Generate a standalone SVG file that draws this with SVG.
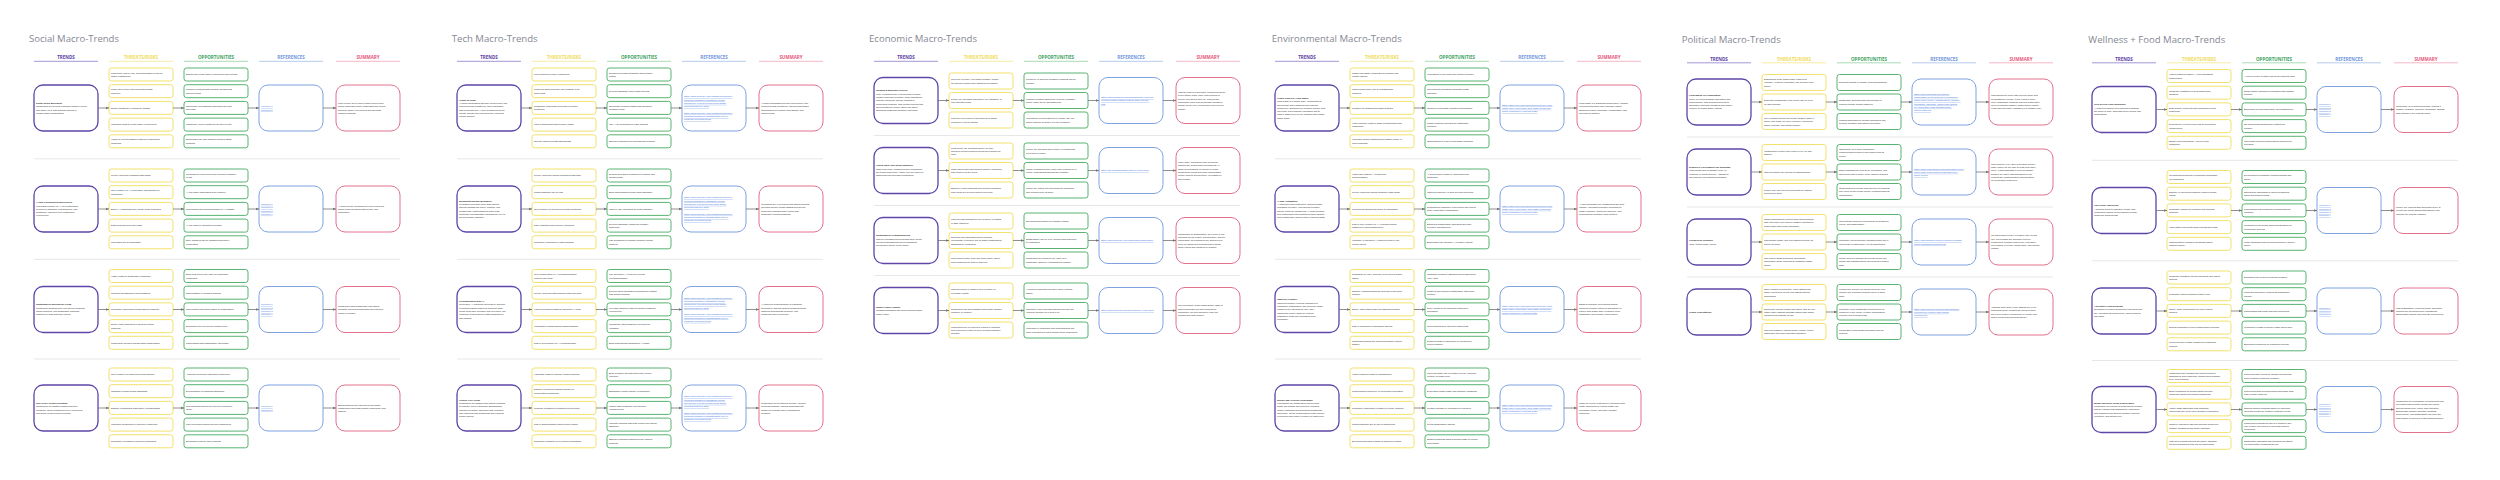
<svg xmlns="http://www.w3.org/2000/svg" width="2500" height="480" viewBox="0 0 2500 480">
<style>
.ttl{font-family:"Open Sans","Noto Sans",sans-serif;font-size:9.6px;fill:#868893}
.h{font-family:"Open Sans","Noto Sans",sans-serif;font-weight:700;font-size:4.5px;text-anchor:middle}
.ul{stroke-width:0.8;fill:none}
.sep{stroke:#e7e7ea;stroke-width:1;fill:none}
.tr{fill:#fff;stroke:#5d46a8;stroke-width:1.3}
.th{fill:#fff;stroke:#f1de5c;stroke-width:0.9}
.op{fill:#fff;stroke:#45aa62;stroke-width:0.9}
.rf{fill:#fff;stroke:#7fa2e2;stroke-width:1}
.sm{fill:#fff;stroke:#e2708d;stroke-width:1}
.t{font-family:"Liberation Sans",Arial,sans-serif;font-size:2.3px;fill:#2a2a2a}
.b{font-weight:700}
.lk{fill:#3f73d9;text-decoration:underline}
.ar path{stroke:#747474;stroke-width:0.8;fill:none;marker-end:url(#ah)}
</style>
<defs>
<marker id="ah" viewBox="0 0 6 6" refX="6" refY="3" markerWidth="3.2" markerHeight="3.2" markerUnits="userSpaceOnUse" orient="auto"><path d="M0 0.5L6 3L0 5.5z" fill="#747474"/></marker>
<g id="hdr">
<text class="h" x="32" y="59" fill="#5a40a3">TRENDS</text>
<text class="h" x="107" y="59" fill="#efdb55">THREATS/RISKS</text>
<text class="h" x="182" y="59" fill="#3ba15d">OPPORTUNITIES</text>
<text class="h" x="257" y="59" fill="#6f95dd">REFERENCES</text>
<text class="h" x="334" y="59" fill="#e3597c">SUMMARY</text>
<path class="ul" stroke="#8c7cc9" d="M0 61.3H64"/>
<path class="ul" stroke="#f4e78e" d="M75 61.3H139"/>
<path class="ul" stroke="#93d2a5" d="M150 61.3H214"/>
<path class="ul" stroke="#a3bdea" d="M225 61.3H289"/>
<path class="ul" stroke="#f0a6b9" d="M302 61.3H366"/>
</g>
<path id="sepA" class="sep" d="M0 158.8H366M0 259.3H366M0 359H366"/>
<path id="sepB" class="sep" d="M0 135.5H366M0 205.5H366M0 275.5H366"/>
</defs>
<rect width="2500" height="480" fill="#fff"/>

<g id="social" transform="translate(34,0)">
<text class="ttl" x="-5" y="41.5" textLength="90" lengthAdjust="spacingAndGlyphs">Social Macro-Trends</text>
<use href="#hdr"/><use href="#sepA"/>
<g id="so1-tr" transform="translate(0,85)"><rect class="tr" width="64" height="46" rx="9"/><text class="t" y="18.9"><tspan x="2" class="b">Digital Detox Movement</tspan><tspan x="2" dy="3.3">Consumers are seeking a balance between online</tspan><tspan x="2" dy="3.3">and offline lives, with growing interest in</tspan><tspan x="2" dy="3.3">mindful digital consumption.</tspan></text></g>
<g id="so1-th1" transform="translate(75,68)"><rect class="th" width="64" height="13" rx="2.5"/><text class="t" y="5.7"><tspan x="2">Less online activity may hurt businesses relying on</tspan><tspan x="2" dy="3.3">digital engagement</tspan></text></g>
<g id="so1-th2" transform="translate(75,84.7)"><rect class="th" width="64" height="13" rx="2.5"/><text class="t" y="5.7"><tspan x="2">Lower ad revenue from decreased digital</tspan><tspan x="2" dy="3.3">presence</tspan></text></g>
<g id="so1-th3" transform="translate(75,101.4)"><rect class="th" width="64" height="13" rx="2.5"/><text class="t" x="2" y="7.35">Slower growth for e-commerce brands</text></g>
<g id="so1-th4" transform="translate(75,118.1)"><rect class="th" width="64" height="13" rx="2.5"/><text class="t" x="2" y="7.35">Increased costs to create offline experiences</text></g>
<g id="so1-th5" transform="translate(75,134.8)"><rect class="th" width="64" height="13" rx="2.5"/><text class="t" y="5.7"><tspan x="2">Harder to collect customer data for personalized</tspan><tspan x="2" dy="3.3">marketing</tspan></text></g>
<g id="so1-op1" transform="translate(150,68)"><rect class="op" width="64" height="13" rx="2.5"/><text class="t" x="2" y="7.35">Brands can create offline experiences and retreats</text></g>
<g id="so1-op2" transform="translate(150,84.7)"><rect class="op" width="64" height="13" rx="2.5"/><text class="t" y="5.7"><tspan x="2">Growth in products that promote mindfulness</tspan><tspan x="2" dy="3.3">and well-being</tspan></text></g>
<g id="so1-op3" transform="translate(150,101.4)"><rect class="op" width="64" height="13" rx="2.5"/><text class="t" y="5.7"><tspan x="2">Opportunity for traditional marketing like print</tspan><tspan x="2" dy="3.3">and radio</tspan></text></g>
<g id="so1-op4" transform="translate(150,118.1)"><rect class="op" width="64" height="13" rx="2.5"/><text class="t" x="2" y="7.35">Community-driven initiatives can drive loyalty</text></g>
<g id="so1-op5" transform="translate(150,134.8)"><rect class="op" width="64" height="13" rx="2.5"/><text class="t" y="5.7"><tspan x="2">Businesses can offer balance-focused digital</tspan><tspan x="2" dy="3.3">products</tspan></text></g>
<g id="so1-rf" transform="translate(225,85)"><rect class="rf" width="64" height="46" rx="9"/><text class="t lk" y="22.2"><tspan x="2">reference 1</tspan><tspan x="2" dy="3.3">reference 2</tspan></text></g>
<g id="so1-sm" transform="translate(302,85)"><rect class="sm" width="64" height="46" rx="9"/><text class="t" y="18.9"><tspan x="2">More people are trying to reduce screen time,</tspan><tspan x="2" dy="3.3">which challenges online businesses but opens</tspan><tspan x="2" dy="3.3">doors for offline experiences and wellness-</tspan><tspan x="2" dy="3.3">focused products.</tspan></text></g>

<g id="so2-tr" transform="translate(0,186)"><rect class="tr" width="64" height="46" rx="9"/><text class="t" y="17.25"><tspan x="2" class="b">AI and Personalized Experiences</tspan><tspan x="2" dy="3.3">Increasing reliance on AI for personalized</tspan><tspan x="2" dy="3.3">services in shopping, entertainment, and</tspan><tspan x="2" dy="3.3">healthcare, offering hyper-customized</tspan><tspan x="2" dy="3.3">experiences.</tspan></text></g>
<g id="so2-th1" transform="translate(75,169)"><rect class="th" width="64" height="13" rx="2.5"/><text class="t" x="2" y="7.35">Privacy concerns regarding data usage</text></g>
<g id="so2-th2" transform="translate(75,185.7)"><rect class="th" width="64" height="13" rx="2.5"/><text class="t" y="5.7"><tspan x="2">Over-reliance on AI could make interactions feel</tspan><tspan x="2" dy="3.3">impersonal</tspan></text></g>
<g id="so2-th3" transform="translate(75,202.4)"><rect class="th" width="64" height="13" rx="2.5"/><text class="t" x="2" y="7.35">Bias in AI algorithms may create unfair outcomes</text></g>
<g id="so2-th4" transform="translate(75,219.1)"><rect class="th" width="64" height="13" rx="2.5"/><text class="t" x="2" y="7.35">Data breaches and cyber risks</text></g>
<g id="so2-th5" transform="translate(75,235.8)"><rect class="th" width="64" height="13" rx="2.5"/><text class="t" x="2" y="7.35">Job losses due to automation</text></g>
<g id="so2-op1" transform="translate(150,169)"><rect class="op" width="64" height="13" rx="2.5"/><text class="t" y="5.7"><tspan x="2">Personalized experiences can increase customer</tspan><tspan x="2" dy="3.3">loyalty</tspan></text></g>
<g id="so2-op2" transform="translate(150,185.7)"><rect class="op" width="64" height="13" rx="2.5"/><text class="t" x="2" y="7.35">AI can make businesses more efficient</text></g>
<g id="so2-op3" transform="translate(150,202.4)"><rect class="op" width="64" height="13" rx="2.5"/><text class="t" x="2" y="7.35">New product development based on AI insights</text></g>
<g id="so2-op4" transform="translate(150,219.1)"><rect class="op" width="64" height="13" rx="2.5"/><text class="t" x="2" y="7.35">AI can improve marketing precision</text></g>
<g id="so2-op5" transform="translate(150,235.8)"><rect class="op" width="64" height="13" rx="2.5"/><text class="t" y="5.7"><tspan x="2">Early adopters can be positioned ahead of</tspan><tspan x="2" dy="3.3">competitors</tspan></text></g>
<g id="so2-rf" transform="translate(225,186)"><rect class="rf" width="64" height="46" rx="9"/><text class="t lk" y="18.9"><tspan x="2">reference 1</tspan><tspan x="2" dy="3.3">reference 2</tspan><tspan x="2" dy="3.3">reference 3</tspan><tspan x="2" dy="3.3">reference 4</tspan></text></g>
<g id="so2-sm" transform="translate(302,186)"><rect class="sm" width="64" height="46" rx="9"/><text class="t" y="20.55"><tspan x="2">AI helps create personalized experiences but</tspan><tspan x="2" dy="3.3">raises concerns about data privacy and</tspan><tspan x="2" dy="3.3">authenticity.</tspan></text></g>

<g id="so3-tr" transform="translate(0,286.5)"><rect class="tr" width="64" height="46" rx="9"/><text class="t" y="18.9"><tspan x="2" class="b">Sustainability and Ethical Living</tspan><tspan x="2" dy="3.3">Consumers demand more eco-friendly products,</tspan><tspan x="2" dy="3.3">ethical sourcing, and sustainable business</tspan><tspan x="2" dy="3.3">practices to align with their values.</tspan></text></g>
<g id="so3-th1" transform="translate(75,269.5)"><rect class="th" width="64" height="13" rx="2.5"/><text class="t" x="2" y="7.35">Higher costs for sustainable production</text></g>
<g id="so3-th2" transform="translate(75,286.2)"><rect class="th" width="64" height="13" rx="2.5"/><text class="t" x="2" y="7.35">Potential accusations of greenwashing</text></g>
<g id="so3-th3" transform="translate(75,302.9)"><rect class="th" width="64" height="13" rx="2.5"/><text class="t" x="2" y="7.35">Regulatory challenges across different markets</text></g>
<g id="so3-th4" transform="translate(75,319.6)"><rect class="th" width="64" height="13" rx="2.5"/><text class="t" y="5.7"><tspan x="2">Supply chain difficulties in sourcing ethical</tspan><tspan x="2" dy="3.3">materials</tspan></text></g>
<g id="so3-th5" transform="translate(75,336.3)"><rect class="th" width="64" height="13" rx="2.5"/><text class="t" x="2" y="7.35">Competition as more brands adopt sustainability</text></g>
<g id="so3-op1" transform="translate(150,269.5)"><rect class="op" width="64" height="13" rx="2.5"/><text class="t" y="5.7"><tspan x="2">Build trust and loyalty with eco-conscious</tspan><tspan x="2" dy="3.3">consumers</tspan></text></g>
<g id="so3-op2" transform="translate(150,286.2)"><rect class="op" width="64" height="13" rx="2.5"/><text class="t" x="2" y="7.35">Differentiation in crowded markets</text></g>
<g id="so3-op3" transform="translate(150,302.9)"><rect class="op" width="64" height="13" rx="2.5"/><text class="t" x="2" y="7.35">New product innovation based on sustainability</text></g>
<g id="so3-op4" transform="translate(150,319.6)"><rect class="op" width="64" height="13" rx="2.5"/><text class="t" x="2" y="7.35">Expansion into eco-friendly product lines</text></g>
<g id="so3-op5" transform="translate(150,336.3)"><rect class="op" width="64" height="13" rx="2.5"/><text class="t" x="2" y="7.35">Partnerships with sustainability advocates</text></g>
<g id="so3-rf" transform="translate(225,286.5)"><rect class="rf" width="64" height="46" rx="9"/><text class="t lk" y="18.9"><tspan x="2">reference 1</tspan><tspan x="2" dy="3.3">reference 2</tspan><tspan x="2" dy="3.3">reference 3</tspan><tspan x="2" dy="3.3">reference 4</tspan></text></g>
<g id="so3-sm" transform="translate(302,286.5)"><rect class="sm" width="64" height="46" rx="9"/><text class="t" y="20.55"><tspan x="2">Consumers want sustainable and ethical</tspan><tspan x="2" dy="3.3">products, offering opportunities but requiring</tspan><tspan x="2" dy="3.3">careful execution.</tspan></text></g>

<g id="so4-tr" transform="translate(0,385)"><rect class="tr" width="64" height="46" rx="9"/><text class="t" y="18.9"><tspan x="2" class="b">Rise of the Creator Economy</tspan><tspan x="2" dy="3.3">Consumers are shifting towards direct-to-</tspan><tspan x="2" dy="3.3">consumer (DTC) brands driven by influencers</tspan><tspan x="2" dy="3.3">and social media content creators.</tspan></text></g>
<g id="so4-th1" transform="translate(75,368)"><rect class="th" width="64" height="13" rx="2.5"/><text class="t" x="2" y="7.35">Over-reliance on influencers could backfire</text></g>
<g id="so4-th2" transform="translate(75,384.7)"><rect class="th" width="64" height="13" rx="2.5"/><text class="t" x="2" y="7.35">Changes in social media algorithms</text></g>
<g id="so4-th3" transform="translate(75,401.4)"><rect class="th" width="64" height="13" rx="2.5"/><text class="t" x="2" y="7.35">Difficulty maintaining authenticity in partnerships</text></g>
<g id="so4-th4" transform="translate(75,418.1)"><rect class="th" width="64" height="13" rx="2.5"/><text class="t" x="2" y="7.35">Increased competition in influencer marketing</text></g>
<g id="so4-th5" transform="translate(75,434.8)"><rect class="th" width="64" height="13" rx="2.5"/><text class="t" x="2" y="7.35">Regulatory oversight of influencer marketing</text></g>
<g id="so4-op1" transform="translate(150,368)"><rect class="op" width="64" height="13" rx="2.5"/><text class="t" x="2" y="7.35">Authentic connection with target audiences</text></g>
<g id="so4-op2" transform="translate(150,384.7)"><rect class="op" width="64" height="13" rx="2.5"/><text class="t" x="2" y="7.35">Diversification of marketing strategies</text></g>
<g id="so4-op3" transform="translate(150,401.4)"><rect class="op" width="64" height="13" rx="2.5"/><text class="t" y="5.7"><tspan x="2">New business models like direct-to-consumer</tspan><tspan x="2" dy="3.3">(DTC)</tspan></text></g>
<g id="so4-op4" transform="translate(150,418.1)"><rect class="op" width="64" height="13" rx="2.5"/><text class="t" x="2" y="7.35">User-generated content driving engagement</text></g>
<g id="so4-op5" transform="translate(150,434.8)"><rect class="op" width="64" height="13" rx="2.5"/><text class="t" x="2" y="7.35">Expanding reach to niche markets</text></g>
<g id="so4-rf" transform="translate(225,385)"><rect class="rf" width="64" height="46" rx="9"/><text class="t lk" y="22.2"><tspan x="2">reference 1</tspan><tspan x="2" dy="3.3">reference 2</tspan></text></g>
<g id="so4-sm" transform="translate(302,385)"><rect class="sm" width="64" height="46" rx="9"/><text class="t" y="20.55"><tspan x="2">Brands tapping into influencers can boost</tspan><tspan x="2" dy="3.3">engagement but must balance authenticity and</tspan><tspan x="2" dy="3.3">strategy.</tspan></text></g>
</g>

<g id="tech" transform="translate(457,0)">
<text class="ttl" x="-5.3" y="41.5" textLength="86" lengthAdjust="spacingAndGlyphs">Tech Macro-Trends</text>
<use href="#hdr"/><use href="#sepA"/>
<g id="te1-tr" transform="translate(0,85)"><rect class="tr" width="64" height="46" rx="9"/><text class="t" y="15.6"><tspan x="2" class="b">Health at Home</tspan><tspan x="2" dy="3.3">At-home diagnostics kits offer convenience and</tspan><tspan x="2" dy="3.3">frequent health monitoring. Tools integrated</tspan><tspan x="2" dy="3.3">with telehealth and AI help consumers act on</tspan><tspan x="2" dy="3.3">results, though price and accuracy concerns</tspan><tspan x="2" dy="3.3">remain barriers.</tspan></text></g>
<g id="te1-th1" transform="translate(75,68)"><rect class="th" width="64" height="13" rx="2.5"/><text class="t" x="2" y="7.35">Price barriers for many consumers</text></g>
<g id="te1-th2" transform="translate(75,84.7)"><rect class="th" width="64" height="13" rx="2.5"/><text class="t" y="5.7"><tspan x="2">Concerns about accuracy and reliability of at-</tspan><tspan x="2" dy="3.3">home tests</tspan></text></g>
<g id="te1-th3" transform="translate(75,101.4)"><rect class="th" width="64" height="13" rx="2.5"/><text class="t" y="5.7"><tspan x="2">Resistance from those preferring in-person</tspan><tspan x="2" dy="3.3">healthcare</tspan></text></g>
<g id="te1-th4" transform="translate(75,118.1)"><rect class="th" width="64" height="13" rx="2.5"/><text class="t" x="2" y="7.35">Lack of awareness about proper usage</text></g>
<g id="te1-th5" transform="translate(75,134.8)"><rect class="th" width="64" height="13" rx="2.5"/><text class="t" x="2" y="7.35">Security risks for health data storage</text></g>
<g id="te1-op1" transform="translate(150,68)"><rect class="op" width="64" height="13" rx="2.5"/><text class="t" y="5.7"><tspan x="2">Expand telehealth integration with at-home</tspan><tspan x="2" dy="3.3">testing</tspan></text></g>
<g id="te1-op2" transform="translate(150,84.7)"><rect class="op" width="64" height="13" rx="2.5"/><text class="t" x="2" y="7.35">Develop affordable and reliable test kits</text></g>
<g id="te1-op3" transform="translate(150,101.4)"><rect class="op" width="64" height="13" rx="2.5"/><text class="t" y="5.7"><tspan x="2">Encourage frequent testing with consumer</tspan><tspan x="2" dy="3.3">feedback loops</tspan></text></g>
<g id="te1-op4" transform="translate(150,118.1)"><rect class="op" width="64" height="13" rx="2.5"/><text class="t" x="2" y="7.35">Use AI for personalized result analysis</text></g>
<g id="te1-op5" transform="translate(150,134.8)"><rect class="op" width="64" height="13" rx="2.5"/><text class="t" x="2" y="7.35">Educate consumers on benefits and reliability</text></g>
<g id="te1-rf" transform="translate(225,85)"><rect class="rf" width="64" height="46" rx="9"/><text class="t lk" y="12.3"><tspan x="2">https://www.mckinsey.com/industries/consumer-</tspan><tspan x="2" dy="3.3">packaged-goods/our-insights/the-trends-</tspan><tspan x="2" dy="3.3">defining-the-1-point-8-trillion-dollar-global-</tspan><tspan x="2" dy="3.3">wellness-market-in-2024</tspan><tspan x="2" dy="6.6">https://www.mckinsey.com/industries/consumer-</tspan><tspan x="2" dy="3.3">packaged-goods/our-insights/whats-next-in-</tspan><tspan x="2" dy="3.3">consumer-wellness-trends</tspan></text></g>
<g id="te1-sm" transform="translate(302,85)"><rect class="sm" width="64" height="46" rx="9"/><text class="t" y="18.9"><tspan x="2">At-home diagnostics provide convenience and</tspan><tspan x="2" dy="3.3">frequent health monitoring, offering businesses</tspan><tspan x="2" dy="3.3">opportunities to enhance accessibility and</tspan><tspan x="2" dy="3.3">effectiveness.</tspan></text></g>

<g id="te2-tr" transform="translate(0,186)"><rect class="tr" width="64" height="46" rx="9"/><text class="t" y="15.6"><tspan x="2" class="b">Biomonitoring and Wearables</tspan><tspan x="2" dy="3.3">Wearables now track more than fitness,</tspan><tspan x="2" dy="3.3">offering insights into sleep, nutrition, and</tspan><tspan x="2" dy="3.3">mindfulness. Partnerships to make data</tspan><tspan x="2" dy="3.3">actionable and affordable solutions are key to</tspan><tspan x="2" dy="3.3">driving broader adoption.</tspan></text></g>
<g id="te2-th1" transform="translate(75,169)"><rect class="th" width="64" height="13" rx="2.5"/><text class="t" x="2" y="7.35">Privacy concerns around personal health data</text></g>
<g id="te2-th2" transform="translate(75,185.7)"><rect class="th" width="64" height="13" rx="2.5"/><text class="t" x="2" y="7.35">Limited adoption due to cost</text></g>
<g id="te2-th3" transform="translate(75,202.4)"><rect class="th" width="64" height="13" rx="2.5"/><text class="t" x="2" y="7.35">Over-reliance on devices for health monitoring</text></g>
<g id="te2-th4" transform="translate(75,219.1)"><rect class="th" width="64" height="13" rx="2.5"/><text class="t" x="2" y="7.35">User frustration with complex interfaces</text></g>
<g id="te2-th5" transform="translate(75,235.8)"><rect class="th" width="64" height="13" rx="2.5"/><text class="t" x="2" y="7.35">Regulatory challenges in data handling</text></g>
<g id="te2-op1" transform="translate(150,169)"><rect class="op" width="64" height="13" rx="2.5"/><text class="t" y="5.7"><tspan x="2">Expand wearables' functions for nutrition and</tspan><tspan x="2" dy="3.3">mental health</tspan></text></g>
<g id="te2-op2" transform="translate(150,185.7)"><rect class="op" width="64" height="13" rx="2.5"/><text class="t" x="2" y="7.35">Build partnerships to make data actionable</text></g>
<g id="te2-op3" transform="translate(150,202.4)"><rect class="op" width="64" height="13" rx="2.5"/><text class="t" x="2" y="7.35">Improve user interfaces for better adoption</text></g>
<g id="te2-op4" transform="translate(150,219.1)"><rect class="op" width="64" height="13" rx="2.5"/><text class="t" y="5.7"><tspan x="2">Develop affordable options for broader</tspan><tspan x="2" dy="3.3">audiences</tspan></text></g>
<g id="te2-op5" transform="translate(150,235.8)"><rect class="op" width="64" height="13" rx="2.5"/><text class="t" y="5.7"><tspan x="2">Use wearables to promote proactive health</tspan><tspan x="2" dy="3.3">behavior</tspan></text></g>
<g id="te2-rf" transform="translate(225,186)"><rect class="rf" width="64" height="46" rx="9"/><text class="t lk" y="12.3"><tspan x="2">https://www.mckinsey.com/industries/consumer-</tspan><tspan x="2" dy="3.3">packaged-goods/our-insights/the-trends-</tspan><tspan x="2" dy="3.3">defining-the-1-point-8-trillion-dollar-global-</tspan><tspan x="2" dy="3.3">wellness-market-in-2024</tspan><tspan x="2" dy="6.6">https://www.mckinsey.com/industries/consumer-</tspan><tspan x="2" dy="3.3">packaged-goods/our-insights/whats-next-in-</tspan><tspan x="2" dy="3.3">consumer-wellness-trends</tspan></text></g>
<g id="te2-sm" transform="translate(302,186)"><rect class="sm" width="64" height="46" rx="9"/><text class="t" y="18.9"><tspan x="2">Wearables are evolving beyond fitness tracking,</tspan><tspan x="2" dy="3.3">providing deeper health insights and driving</tspan><tspan x="2" dy="3.3">behavioral changes when paired with</tspan><tspan x="2" dy="3.3">actionable recommendations.</tspan></text></g>

<g id="te3-tr" transform="translate(0,286.5)"><rect class="tr" width="64" height="46" rx="9"/><text class="t" y="15.6"><tspan x="2" class="b">Personalization with AI</tspan><tspan x="2" dy="3.3">Generative AI enhances wellness by tailoring</tspan><tspan x="2" dy="3.3">recommendations based on biometric data.</tspan><tspan x="2" dy="3.3">These tools offer precision and relevance, but</tspan><tspan x="2" dy="3.3">consumer trust hinges on data transparency</tspan><tspan x="2" dy="3.3">and usability.</tspan></text></g>
<g id="te3-th1" transform="translate(75,269.5)"><rect class="th" width="64" height="13" rx="2.5"/><text class="t" y="5.7"><tspan x="2">Over-complication in AI recommendations</tspan><tspan x="2" dy="3.3">reduces user trust</tspan></text></g>
<g id="te3-th2" transform="translate(75,286.2)"><rect class="th" width="64" height="13" rx="2.5"/><text class="t" x="2" y="7.35">Privacy concerns with biometric data collection</text></g>
<g id="te3-th3" transform="translate(75,302.9)"><rect class="th" width="64" height="13" rx="2.5"/><text class="t" x="2" y="7.35">High development costs for advanced AI tools</text></g>
<g id="te3-th4" transform="translate(75,319.6)"><rect class="th" width="64" height="13" rx="2.5"/><text class="t" x="2" y="7.35">Inconsistent results without robust datasets</text></g>
<g id="te3-th5" transform="translate(75,336.3)"><rect class="th" width="64" height="13" rx="2.5"/><text class="t" x="2" y="7.35">Risk of overreliance on AI personalization</text></g>
<g id="te3-op1" transform="translate(150,269.5)"><rect class="op" width="64" height="13" rx="2.5"/><text class="t" y="5.7"><tspan x="2">Use generative AI to deliver precise</tspan><tspan x="2" dy="3.3">recommendations</tspan></text></g>
<g id="te3-op2" transform="translate(150,286.2)"><rect class="op" width="64" height="13" rx="2.5"/><text class="t" y="5.7"><tspan x="2">Develop apps integrating personalized nutrition</tspan><tspan x="2" dy="3.3">with health products</tspan></text></g>
<g id="te3-op3" transform="translate(150,302.9)"><rect class="op" width="64" height="13" rx="2.5"/><text class="t" y="5.7"><tspan x="2">Leverage biometric data for tailored consumer</tspan><tspan x="2" dy="3.3">experiences</tspan></text></g>
<g id="te3-op4" transform="translate(150,319.6)"><rect class="op" width="64" height="13" rx="2.5"/><text class="t" y="5.7"><tspan x="2">Collaborate with healthcare providers for</tspan><tspan x="2" dy="3.3">validation</tspan></text></g>
<g id="te3-op5" transform="translate(150,336.3)"><rect class="op" width="64" height="13" rx="2.5"/><text class="t" x="2" y="7.35">Build trust through transparent AI usage</text></g>
<g id="te3-rf" transform="translate(225,286.5)"><rect class="rf" width="64" height="46" rx="9"/><text class="t lk" y="12.3"><tspan x="2">https://www.mckinsey.com/industries/consumer-</tspan><tspan x="2" dy="3.3">packaged-goods/our-insights/the-trends-</tspan><tspan x="2" dy="3.3">defining-the-1-point-8-trillion-dollar-global-</tspan><tspan x="2" dy="3.3">wellness-market-in-2024</tspan><tspan x="2" dy="6.6">https://www.mckinsey.com/industries/consumer-</tspan><tspan x="2" dy="3.3">packaged-goods/our-insights/whats-next-in-</tspan><tspan x="2" dy="3.3">consumer-wellness-trends</tspan></text></g>
<g id="te3-sm" transform="translate(302,286.5)"><rect class="sm" width="64" height="46" rx="9"/><text class="t" y="18.9"><tspan x="2">AI-powered personalization is reshaping</tspan><tspan x="2" dy="3.3">wellness by offering tailored health solutions,</tspan><tspan x="2" dy="3.3">fostering trust through accuracy, and</tspan><tspan x="2" dy="3.3">enhancing user experience.</tspan></text></g>

<g id="te4-tr" transform="translate(0,385)"><rect class="tr" width="64" height="46" rx="9"/><text class="t" y="15.6"><tspan x="2" class="b">Clinical Over Clean</tspan><tspan x="2" dy="3.3">Consumers are shifting from natural products</tspan><tspan x="2" dy="3.3">to clinically proven solutions. Emphasizing</tspan><tspan x="2" dy="3.3">scientific credibility with third-party research</tspan><tspan x="2" dy="3.3">and endorsements builds trust and expands</tspan><tspan x="2" dy="3.3">market appeal.</tspan></text></g>
<g id="te4-th1" transform="translate(75,368)"><rect class="th" width="64" height="13" rx="2.5"/><text class="t" x="2" y="7.35">High R&amp;D costs for clinically tested products</text></g>
<g id="te4-th2" transform="translate(75,384.7)"><rect class="th" width="64" height="13" rx="2.5"/><text class="t" y="5.7"><tspan x="2">Difficulty pivoting for brands focused on</tspan><tspan x="2" dy="3.3">clean/natural positioning</tspan></text></g>
<g id="te4-th3" transform="translate(75,401.4)"><rect class="th" width="64" height="13" rx="2.5"/><text class="t" x="2" y="7.35">Regional variations in consumer preferences</text></g>
<g id="te4-th4" transform="translate(75,418.1)"><rect class="th" width="64" height="13" rx="2.5"/><text class="t" x="2" y="7.35">Risk of misinformation about clinical claims</text></g>
<g id="te4-th5" transform="translate(75,434.8)"><rect class="th" width="64" height="13" rx="2.5"/><text class="t" x="2" y="7.35">Consumer confusion over clinical certifications</text></g>
<g id="te4-op1" transform="translate(150,368)"><rect class="op" width="64" height="13" rx="2.5"/><text class="t" y="5.7"><tspan x="2">Build credibility through third-party clinical</tspan><tspan x="2" dy="3.3">research</tspan></text></g>
<g id="te4-op2" transform="translate(150,384.7)"><rect class="op" width="64" height="13" rx="2.5"/><text class="t" x="2" y="7.35">Emphasize clinical efficacy in marketing</text></g>
<g id="te4-op3" transform="translate(150,401.4)"><rect class="op" width="64" height="13" rx="2.5"/><text class="t" y="5.7"><tspan x="2">Partner with healthcare providers for</tspan><tspan x="2" dy="3.3">endorsements</tspan></text></g>
<g id="te4-op4" transform="translate(150,418.1)"><rect class="op" width="64" height="13" rx="2.5"/><text class="t" y="5.7"><tspan x="2">Innovate products with both clinical and natural</tspan><tspan x="2" dy="3.3">attributes</tspan></text></g>
<g id="te4-op5" transform="translate(150,434.8)"><rect class="op" width="64" height="13" rx="2.5"/><text class="t" y="5.7"><tspan x="2">Educate consumers about science-backed</tspan><tspan x="2" dy="3.3">products</tspan></text></g>
<g id="te4-rf" transform="translate(225,385)"><rect class="rf" width="64" height="46" rx="9"/><text class="t lk" y="12.3"><tspan x="2">https://www.mckinsey.com/industries/consumer-</tspan><tspan x="2" dy="3.3">packaged-goods/our-insights/the-trends-</tspan><tspan x="2" dy="3.3">defining-the-1-point-8-trillion-dollar-global-</tspan><tspan x="2" dy="3.3">wellness-market-in-2024</tspan><tspan x="2" dy="6.6">https://www.mckinsey.com/industries/consumer-</tspan><tspan x="2" dy="3.3">packaged-goods/our-insights/whats-next-in-</tspan><tspan x="2" dy="3.3">consumer-wellness-trends</tspan></text></g>
<g id="te4-sm" transform="translate(302,385)"><rect class="sm" width="64" height="46" rx="9"/><text class="t" y="18.9"><tspan x="2">Consumers are prioritizing clinically effective</tspan><tspan x="2" dy="3.3">wellness products, offering businesses the</tspan><tspan x="2" dy="3.3">chance to innovate while emphasizing</tspan><tspan x="2" dy="3.3">credibility.</tspan></text></g>
</g>

<g id="economic" transform="translate(874,0)">
<text class="ttl" x="-5" y="41.5" textLength="108" lengthAdjust="spacingAndGlyphs">Economic Macro-Trends</text>
<use href="#hdr"/><use href="#sepB"/>
<g id="ec1-tr" transform="translate(0,77.5)"><rect class="tr" width="64" height="46" rx="9"/><text class="t" y="13.95"><tspan x="2" class="b">Inflation &amp; Monetary Policies</tspan><tspan x="2" dy="3.3">Many economies are experiencing elevated</tspan><tspan x="2" dy="3.3">inflation rates due to supply chain disruptions</tspan><tspan x="2" dy="3.3">from the pandemic and the impacts of</tspan><tspan x="2" dy="3.3">geopolitical tensions. This creates interest rate</tspan><tspan x="2" dy="3.3">hikes to stabilize prices, which can affect</tspan><tspan x="2" dy="3.3">borrowing costs and consumer spending.</tspan></text></g>
<g id="ec1-th1" transform="translate(75,73)"><rect class="th" width="64" height="16" rx="2.5"/><text class="t" y="7.2"><tspan x="2">The price of nearly everything is higher, people</tspan><tspan x="2" dy="3.3">are having a harder time affording necessities</tspan></text></g>
<g id="ec1-th2" transform="translate(75,92.5)"><rect class="th" width="64" height="16" rx="2.5"/><text class="t" y="7.2"><tspan x="2">People are spending less money on “indulgent” or</tspan><tspan x="2" dy="3.3">non-essential items</tspan></text></g>
<g id="ec1-th3" transform="translate(75,112)"><rect class="th" width="64" height="16" rx="2.5"/><text class="t" y="7.2"><tspan x="2">This likely will require a government or global</tspan><tspan x="2" dy="3.3">economic event to change</tspan></text></g>
<g id="ec1-op1" transform="translate(150,73)"><rect class="op" width="64" height="16" rx="2.5"/><text class="t" y="7.2"><tspan x="2">Localized, or direct-to-consumer products can be</tspan><tspan x="2" dy="3.3">cheaper</tspan></text></g>
<g id="ec1-op2" transform="translate(150,92.5)"><rect class="op" width="64" height="16" rx="2.5"/><text class="t" y="7.2"><tspan x="2">Finding a product without the need for a massive</tspan><tspan x="2" dy="3.3">supply chain will be advantageous</tspan></text></g>
<g id="ec1-op3" transform="translate(150,112)"><rect class="op" width="64" height="16" rx="2.5"/><text class="t" y="7.2"><tspan x="2">Innovations on items that aren't “single use” but</tspan><tspan x="2" dy="3.3">rather continue to supply it to the consumer</tspan></text></g>
<g id="ec1-rf" transform="translate(225,77.5)"><rect class="rf" width="64" height="46" rx="9"/><text class="t lk" y="20.55"><tspan x="2">https://www.jpmorgan.com/insights/global-research/</tspan><tspan x="2" dy="3.3">economy/global-inflation-outlook-2024-fed-rate-</tspan><tspan x="2" dy="3.3">cuts</tspan></text></g>
<g id="ec1-sm" transform="translate(302,77.5)"><rect class="sm" width="64" height="46" rx="9"/><text class="t" y="15.6"><tspan x="2">With the cost of living rising, consumers will be</tspan><tspan x="2" dy="3.3">hyper-aware of the value each product or</tspan><tspan x="2" dy="3.3">service provides to their life. This means</tspan><tspan x="2" dy="3.3">articulating value and meaningful impacts in</tspan><tspan x="2" dy="3.3">design will be a key to success in the current</tspan><tspan x="2" dy="3.3">market.</tspan></text></g>

<g id="ec2-tr" transform="translate(0,147.5)"><rect class="tr" width="64" height="46" rx="9"/><text class="t" y="18.9"><tspan x="2" class="b">Hybrid Work isn't going anywhere</tspan><tspan x="2" dy="3.3">Post covid many companies have maintained</tspan><tspan x="2" dy="3.3">the hybrid work policy, largely due to employee</tspan><tspan x="2" dy="3.3">happiness and increased productivity.</tspan></text></g>
<g id="ec2-th1" transform="translate(75,143)"><rect class="th" width="64" height="16" rx="2.5"/><text class="t" y="5.55"><tspan x="2">Less people are spending money on daily</tspan><tspan x="2" dy="3.3">activities involved around leaving their homes for</tspan><tspan x="2" dy="3.3">work</tspan></text></g>
<g id="ec2-th2" transform="translate(75,162.5)"><rect class="th" width="64" height="16" rx="2.5"/><text class="t" y="7.2"><tspan x="2">Large offices and retail spaces formerly populated</tspan><tspan x="2" dy="3.3">with employees are dying</tspan></text></g>
<g id="ec2-th3" transform="translate(75,182)"><rect class="th" width="64" height="16" rx="2.5"/><text class="t" y="7.2"><tspan x="2">Effectively some business built around populated</tspan><tspan x="2" dy="3.3">work areas are being rendered irrelevant</tspan></text></g>
<g id="ec2-op1" transform="translate(150,143)"><rect class="op" width="64" height="16" rx="2.5"/><text class="t" y="7.2"><tspan x="2">People are spending more money on things that</tspan><tspan x="2" dy="3.3">keep them at home</tspan></text></g>
<g id="ec2-op2" transform="translate(150,162.5)"><rect class="op" width="64" height="16" rx="2.5"/><text class="t" y="7.2"><tspan x="2">Former commuters have more time to spend on a</tspan><tspan x="2" dy="3.3">variety of things that support the economy</tspan></text></g>
<g id="ec2-op3" transform="translate(150,182)"><rect class="op" width="64" height="16" rx="2.5"/><text class="t" y="7.2"><tspan x="2">People are eating out less during the workweek</tspan><tspan x="2" dy="3.3">and cooking more at home</tspan></text></g>
<g id="ec2-rf" transform="translate(225,147.5)"><rect class="rf" width="64" height="46" rx="9"/><text class="t lk" x="2" y="23.85">https://hbr.org/2023/03/the-state-of-hybrid-work</text></g>
<g id="ec2-sm" transform="translate(302,147.5)"><rect class="sm" width="64" height="46" rx="9"/><text class="t" y="15.6"><tspan x="2">While many companies have seemingly</tspan><tspan x="2" dy="3.3">adopted the hybrid model permanently, it</tspan><tspan x="2" dy="3.3">holds an opportunity to provide in-home</tspan><tspan x="2" dy="3.3">solutions for meals and other commodities</tspan><tspan x="2" dy="3.3">people used to spend money on outside of</tspan><tspan x="2" dy="3.3">their homes.</tspan></text></g>

<g id="ec3-tr" transform="translate(0,217.5)"><rect class="tr" width="64" height="46" rx="9"/><text class="t" y="18.9"><tspan x="2" class="b">Sustainability in Manufacturing</tspan><tspan x="2" dy="3.3">This is a consistent trend across many areas,</tspan><tspan x="2" dy="3.3">not just manufacturing but is consistently</tspan><tspan x="2" dy="3.3">becoming a priority to the public.</tspan></text></g>
<g id="ec3-th1" transform="translate(75,213)"><rect class="th" width="64" height="16" rx="2.5"/><text class="t" y="7.2"><tspan x="2">This can cost companies a lot of money investing</tspan><tspan x="2" dy="3.3">in CSR initiatives</tspan></text></g>
<g id="ec3-th2" transform="translate(75,232.5)"><rect class="th" width="64" height="16" rx="2.5"/><text class="t" y="5.55"><tspan x="2">Sourcing and manufacturing will become</tspan><tspan x="2" dy="3.3">increasingly expensive due to higher sustainability</tspan><tspan x="2" dy="3.3">standards by consumers</tspan></text></g>
<g id="ec3-th3" transform="translate(75,252)"><rect class="th" width="64" height="16" rx="2.5"/><text class="t" y="7.2"><tspan x="2">This requires more work and more money spent</tspan><tspan x="2" dy="3.3">from companies to achieve this end</tspan></text></g>
<g id="ec3-op1" transform="translate(150,213)"><rect class="op" width="64" height="16" rx="2.5"/><text class="t" x="2" y="8.85">Environmental impact is a massive upside</text></g>
<g id="ec3-op2" transform="translate(150,232.5)"><rect class="op" width="64" height="16" rx="2.5"/><text class="t" y="7.2"><tspan x="2">Sustainability can be a key selling point marketed</tspan><tspan x="2" dy="3.3">to consumers</tspan></text></g>
<g id="ec3-op3" transform="translate(150,252)"><rect class="op" width="64" height="16" rx="2.5"/><text class="t" y="7.2"><tspan x="2">Consumers are willing to pay more for a</tspan><tspan x="2" dy="3.3">sustainably sourced / manufactured product</tspan></text></g>
<g id="ec3-rf" transform="translate(225,217.5)"><rect class="rf" width="64" height="46" rx="9"/><text class="t lk" x="2" y="23.85">https://www.mckinsey.com/capabilities/sustainability</text></g>
<g id="ec3-sm" transform="translate(302,217.5)"><rect class="sm" width="64" height="46" rx="9"/><text class="t" y="17.25"><tspan x="2">Capitalizing on sustainability as a value is not</tspan><tspan x="2" dy="3.3">just good for the planet, but potentially also for</tspan><tspan x="2" dy="3.3">businesses, as consumers are willing to pay</tspan><tspan x="2" dy="3.3">more for goods and products that express</tspan><tspan x="2" dy="3.3">these values and initiatives in practice.</tspan></text></g>

<g id="ec4-tr" transform="translate(0,287.5)"><rect class="tr" width="64" height="46" rx="9"/><text class="t" y="20.55"><tspan x="2" class="b">Supply Chain Fragility</tspan><tspan x="2" dy="3.3">Constant shortages and delays among global</tspan><tspan x="2" dy="3.3">supply chain.</tspan></text></g>
<g id="ec4-th1" transform="translate(75,283)"><rect class="th" width="64" height="16" rx="2.5"/><text class="t" y="7.2"><tspan x="2">This can lead to a massive hole in supply of</tspan><tspan x="2" dy="3.3">necessary goods</tspan></text></g>
<g id="ec4-th2" transform="translate(75,302.5)"><rect class="th" width="64" height="16" rx="2.5"/><text class="t" y="7.2"><tspan x="2">Consumers can get frustrated and pursue another</tspan><tspan x="2" dy="3.3">company or product</tspan></text></g>
<g id="ec4-th3" transform="translate(75,322)"><rect class="th" width="64" height="16" rx="2.5"/><text class="t" y="5.55"><tspan x="2">Companies may be forced to rebuild or redesign</tspan><tspan x="2" dy="3.3">their pipelines in order to keep up with consumer</tspan><tspan x="2" dy="3.3">demand</tspan></text></g>
<g id="ec4-op1" transform="translate(150,283)"><rect class="op" width="64" height="16" rx="2.5"/><text class="t" y="7.2"><tspan x="2">A localized approach can solve some of these</tspan><tspan x="2" dy="3.3">issues</tspan></text></g>
<g id="ec4-op2" transform="translate(150,302.5)"><rect class="op" width="64" height="16" rx="2.5"/><text class="t" y="7.2"><tspan x="2">Potentially more jobs and markets can take the</tspan><tspan x="2" dy="3.3">“popular” solution on a local level</tspan></text></g>
<g id="ec4-op3" transform="translate(150,322)"><rect class="op" width="64" height="16" rx="2.5"/><text class="t" y="7.2"><tspan x="2">Innovation in production and manufacturing can</tspan><tspan x="2" dy="3.3">allow companies to grow despite these challenges</tspan></text></g>
<g id="ec4-rf" transform="translate(225,287.5)"><rect class="rf" width="64" height="46" rx="9"/><text class="t lk" x="2" y="23.85">https://www.weforum.org/agenda/supply-chain-2024</text></g>
<g id="ec4-sm" transform="translate(302,287.5)"><rect class="sm" width="64" height="46" rx="9"/><text class="t" y="18.9"><tspan x="2">The uncertainty of the global supply chain is</tspan><tspan x="2" dy="3.3">both problematic but also presents an</tspan><tspan x="2" dy="3.3">opportunity for local groups to enter the</tspan><tspan x="2" dy="3.3">product and labor market.</tspan></text></g>
</g>

<g id="environmental" transform="translate(1275,0)">
<text class="ttl" x="-3.3" y="41.5" textLength="130" lengthAdjust="spacingAndGlyphs">Environmental Macro-Trends</text>
<use href="#hdr"/><use href="#sepA"/>
<g id="en1-tr" transform="translate(0,85)"><rect class="tr" width="64" height="46" rx="9"/><text class="t" y="13.95"><tspan x="2" class="b">Global Concern: Food Waste</tspan><tspan x="2" dy="3.3">Food waste is a global issue, contributing to</tspan><tspan x="2" dy="3.3">greenhouse gas emissions and resource</tspan><tspan x="2" dy="3.3">inefficiency. Solutions like dynamic pricing, food</tspan><tspan x="2" dy="3.3">upcycling, and consumer education aim to</tspan><tspan x="2" dy="3.3">reduce waste at all levels, aligning with climate</tspan><tspan x="2" dy="3.3">action goals.</tspan></text></g>
<g id="en1-th1" transform="translate(75,68)"><rect class="th" width="64" height="13" rx="2.5"/><text class="t" y="5.7"><tspan x="2">Rising food waste contributes to pollution and</tspan><tspan x="2" dy="3.3">climate change</tspan></text></g>
<g id="en1-th2" transform="translate(75,84.7)"><rect class="th" width="64" height="13" rx="2.5"/><text class="t" y="5.7"><tspan x="2">Loss of biodiversity due to unsustainable</tspan><tspan x="2" dy="3.3">practices</tspan></text></g>
<g id="en1-th3" transform="translate(75,101.4)"><rect class="th" width="64" height="13" rx="2.5"/><text class="t" x="2" y="7.35">Pressure on landfills and waste systems</text></g>
<g id="en1-th4" transform="translate(75,118.1)"><rect class="th" width="64" height="13" rx="2.5"/><text class="t" y="5.7"><tspan x="2">High economic costs of waste to businesses and</tspan><tspan x="2" dy="3.3">consumers</tspan></text></g>
<g id="en1-th5" transform="translate(75,134.8)"><rect class="th" width="64" height="13" rx="2.5"/><text class="t" y="5.7"><tspan x="2">Increased carbon footprint from wasted energy in</tspan><tspan x="2" dy="3.3">food production</tspan></text></g>
<g id="en1-op1" transform="translate(150,68)"><rect class="op" width="64" height="13" rx="2.5"/><text class="t" x="2" y="7.35">Innovations in upcycling and circular economy</text></g>
<g id="en1-op2" transform="translate(150,84.7)"><rect class="op" width="64" height="13" rx="2.5"/><text class="t" y="5.7"><tspan x="2">Government regulations promoting waste</tspan><tspan x="2" dy="3.3">reduction</tspan></text></g>
<g id="en1-op3" transform="translate(150,101.4)"><rect class="op" width="64" height="13" rx="2.5"/><text class="t" x="2" y="7.35">Growth in food waste reduction technologies</text></g>
<g id="en1-op4" transform="translate(150,118.1)"><rect class="op" width="64" height="13" rx="2.5"/><text class="t" y="5.7"><tspan x="2">Rising consumer demand for sustainable</tspan><tspan x="2" dy="3.3">practices</tspan></text></g>
<g id="en1-op5" transform="translate(150,134.8)"><rect class="op" width="64" height="13" rx="2.5"/><text class="t" x="2" y="7.35">Opportunities to lead in food waste education</text></g>
<g id="en1-rf" transform="translate(225,85)"><rect class="rf" width="64" height="46" rx="9"/><text class="t lk" y="20.55"><tspan x="2">https://www.unep.org/resources/report/unep-food-</tspan><tspan x="2" dy="3.3">waste-index-report-2024-food-waste-trends-and-</tspan><tspan x="2" dy="3.3">global-progress-on-reducing-waste</tspan></text></g>
<g id="en1-sm" transform="translate(302,85)"><rect class="sm" width="64" height="46" rx="9"/><text class="t" y="18.9"><tspan x="2">Food waste is a significant global issue, causing</tspan><tspan x="2" dy="3.3">environmental harm and economic losses.</tspan><tspan x="2" dy="3.3">Solutions require innovation, collaboration, and</tspan><tspan x="2" dy="3.3">government actions.</tspan></text></g>

<g id="en2-tr" transform="translate(0,186)"><rect class="tr" width="64" height="46" rx="9"/><text class="t" y="15.6"><tspan x="2" class="b">AI and Automation</tspan><tspan x="2" dy="3.3">AI optimizes food systems by tracking waste,</tspan><tspan x="2" dy="3.3">managing inventory, and offering dynamic</tspan><tspan x="2" dy="3.3">pricing. Tools like Orbisk and AI-powered apps</tspan><tspan x="2" dy="3.3">help businesses and consumers make smarter,</tspan><tspan x="2" dy="3.3">more sustainable choices while reducing waste.</tspan></text></g>
<g id="en2-th1" transform="translate(75,169)"><rect class="th" width="64" height="13" rx="2.5"/><text class="t" y="5.7"><tspan x="2">High initial costs for AI technology</tspan><tspan x="2" dy="3.3">implementation</tspan></text></g>
<g id="en2-th2" transform="translate(75,185.7)"><rect class="th" width="64" height="13" rx="2.5"/><text class="t" x="2" y="7.35">Privacy concerns around consumer data usage</text></g>
<g id="en2-th3" transform="translate(75,202.4)"><rect class="th" width="64" height="13" rx="2.5"/><text class="t" x="2" y="7.35">Potential job displacement due to automation</text></g>
<g id="en2-th4" transform="translate(75,219.1)"><rect class="th" width="64" height="13" rx="2.5"/><text class="t" y="5.7"><tspan x="2">Risk of over-reliance on AI, reducing human</tspan><tspan x="2" dy="3.3">judgment in food management</tspan></text></g>
<g id="en2-th5" transform="translate(75,235.8)"><rect class="th" width="64" height="13" rx="2.5"/><text class="t" y="5.7"><tspan x="2">Inequality in access to AI-powered tools in low-</tspan><tspan x="2" dy="3.3">income areas</tspan></text></g>
<g id="en2-op1" transform="translate(150,169)"><rect class="op" width="64" height="13" rx="2.5"/><text class="t" y="5.7"><tspan x="2">AI helps reduce waste by optimizing food</tspan><tspan x="2" dy="3.3">production</tspan></text></g>
<g id="en2-op2" transform="translate(150,185.7)"><rect class="op" width="64" height="13" rx="2.5"/><text class="t" x="2" y="7.35">Improves efficiency in food services and retail</text></g>
<g id="en2-op3" transform="translate(150,202.4)"><rect class="op" width="64" height="13" rx="2.5"/><text class="t" y="5.7"><tspan x="2">Personalized consumer experiences can lead to</tspan><tspan x="2" dy="3.3">more responsible consumption</tspan></text></g>
<g id="en2-op4" transform="translate(150,219.1)"><rect class="op" width="64" height="13" rx="2.5"/><text class="t" y="5.7"><tspan x="2">Enhances sustainability through better food</tspan><tspan x="2" dy="3.3">inventory management</tspan></text></g>
<g id="en2-op5" transform="translate(150,235.8)"><rect class="op" width="64" height="13" rx="2.5"/><text class="t" x="2" y="7.35">Businesses can integrate AI in supply chains</text></g>
<g id="en2-rf" transform="translate(225,186)"><rect class="rf" width="64" height="46" rx="9"/><text class="t lk" y="20.55"><tspan x="2">https://www.unep.org/resources/report/unep-food-</tspan><tspan x="2" dy="3.3">waste-index-report-2024-food-waste-trends-and-</tspan><tspan x="2" dy="3.3">global-progress-on-reducing-waste</tspan></text></g>
<g id="en2-sm" transform="translate(302,186)"><rect class="sm" width="64" height="46" rx="9"/><text class="t" y="18.9"><tspan x="2">AI and automation are transforming the food</tspan><tspan x="2" dy="3.3">industry, providing innovative solutions for</tspan><tspan x="2" dy="3.3">waste reduction, improving efficiency, and</tspan><tspan x="2" dy="3.3">personalizing consumer food choices.</tspan></text></g>

<g id="en3-tr" transform="translate(0,286.5)"><rect class="tr" width="64" height="46" rx="9"/><text class="t" y="13.95"><tspan x="2" class="b">Imperfect Produce</tspan><tspan x="2" dy="3.3">Imperfect produce is being rebranded to</tspan><tspan x="2" dy="3.3">emphasize sustainability and minimize waste.</tspan><tspan x="2" dy="3.3">Initiatives like Intermarché and “Ugly”</tspan><tspan x="2" dy="3.3">campaigns reduce waste by making</tspan><tspan x="2" dy="3.3">misshapen fruits and vegetables more</tspan><tspan x="2" dy="3.3">accessible.</tspan></text></g>
<g id="en3-th1" transform="translate(75,269.5)"><rect class="th" width="64" height="13" rx="2.5"/><text class="t" y="5.7"><tspan x="2">Resistance to “ugly” food due to perceived quality</tspan><tspan x="2" dy="3.3">issues</tspan></text></g>
<g id="en3-th2" transform="translate(75,286.2)"><rect class="th" width="64" height="13" rx="2.5"/><text class="t" y="5.7"><tspan x="2">Difficulty communicating the benefits of imperfect</tspan><tspan x="2" dy="3.3">produce</tspan></text></g>
<g id="en3-th3" transform="translate(75,302.9)"><rect class="th" width="64" height="13" rx="2.5"/><text class="t" x="2" y="7.35">Supply chain issues with non-standard produce</text></g>
<g id="en3-th4" transform="translate(75,319.6)"><rect class="th" width="64" height="13" rx="2.5"/><text class="t" x="2" y="7.35">Risk of confusing or misleading labeling</text></g>
<g id="en3-th5" transform="translate(75,336.3)"><rect class="th" width="64" height="13" rx="2.5"/><text class="t" y="5.7"><tspan x="2">Challenges scaling the imperfect produce market</tspan><tspan x="2" dy="3.3">globally</tspan></text></g>
<g id="en3-op1" transform="translate(150,269.5)"><rect class="op" width="64" height="13" rx="2.5"/><text class="t" y="5.7"><tspan x="2">Changing consumer attitudes opens markets for</tspan><tspan x="2" dy="3.3">“ugly” food</tspan></text></g>
<g id="en3-op2" transform="translate(150,286.2)"><rect class="op" width="64" height="13" rx="2.5"/><text class="t" y="5.7"><tspan x="2">Retailers can promote sustainability with quirky</tspan><tspan x="2" dy="3.3">produce</tspan></text></g>
<g id="en3-op3" transform="translate(150,302.9)"><rect class="op" width="64" height="13" rx="2.5"/><text class="t" y="5.7"><tspan x="2">Price incentives for imperfect items drive</tspan><tspan x="2" dy="3.3">purchases</tspan></text></g>
<g id="en3-op4" transform="translate(150,319.6)"><rect class="op" width="64" height="13" rx="2.5"/><text class="t" x="2" y="7.35">New products from imperfect ingredients</text></g>
<g id="en3-op5" transform="translate(150,336.3)"><rect class="op" width="64" height="13" rx="2.5"/><text class="t" y="5.7"><tspan x="2">Reduces waste in agriculture by selling non-</tspan><tspan x="2" dy="3.3">perfect produce</tspan></text></g>
<g id="en3-rf" transform="translate(225,286.5)"><rect class="rf" width="64" height="46" rx="9"/><text class="t lk" y="20.55"><tspan x="2">https://www.unep.org/resources/report/unep-food-</tspan><tspan x="2" dy="3.3">waste-index-report-2024-food-waste-trends-and-</tspan><tspan x="2" dy="3.3">global-progress-on-reducing-waste</tspan></text></g>
<g id="en3-sm" transform="translate(302,286.5)"><rect class="sm" width="64" height="46" rx="9"/><text class="t" y="18.9"><tspan x="2">Shifting consumer perceptions toward</tspan><tspan x="2" dy="3.3">imperfect produce offers an opportunity to</tspan><tspan x="2" dy="3.3">reduce food waste while creating a more</tspan><tspan x="2" dy="3.3">sustainable and inclusive food market.</tspan></text></g>

<g id="en4-tr" transform="translate(0,385)"><rect class="tr" width="64" height="46" rx="9"/><text class="t" y="15.6"><tspan x="2" class="b">Energy and Fertilizer from Waste</tspan><tspan x="2" dy="3.3">Innovations like biodigesters convert food</tspan><tspan x="2" dy="3.3">waste into biogas and fertilizers, reducing</tspan><tspan x="2" dy="3.3">landfill emissions and supporting sustainable</tspan><tspan x="2" dy="3.3">agriculture. These technologies create circular</tspan><tspan x="2" dy="3.3">economies and reduce reliance on fossil fuels.</tspan></text></g>
<g id="en4-th1" transform="translate(75,368)"><rect class="th" width="64" height="13" rx="2.5"/><text class="t" x="2" y="7.35">High investment costs for infrastructure</text></g>
<g id="en4-th2" transform="translate(75,384.7)"><rect class="th" width="64" height="13" rx="2.5"/><text class="t" x="2" y="7.35">Technological complexity in conversion processes</text></g>
<g id="en4-th3" transform="translate(75,401.4)"><rect class="th" width="64" height="13" rx="2.5"/><text class="t" x="2" y="7.35">Regulatory challenges in waste-to-energy systems</text></g>
<g id="en4-th4" transform="translate(75,418.1)"><rect class="th" width="64" height="13" rx="2.5"/><text class="t" x="2" y="7.35">Limited adoption due to lack of awareness</text></g>
<g id="en4-th5" transform="translate(75,434.8)"><rect class="th" width="64" height="13" rx="2.5"/><text class="t" x="2" y="7.35">Environmental risks if waste is improperly sorted</text></g>
<g id="en4-op1" transform="translate(150,368)"><rect class="op" width="64" height="13" rx="2.5"/><text class="t" y="5.7"><tspan x="2">Converts waste into renewable energy, reducing</tspan><tspan x="2" dy="3.3">reliance on fossil fuels</tspan></text></g>
<g id="en4-op2" transform="translate(150,384.7)"><rect class="op" width="64" height="13" rx="2.5"/><text class="t" x="2" y="7.35">Decreases landfill waste and methane emissions</text></g>
<g id="en4-op3" transform="translate(150,401.4)"><rect class="op" width="64" height="13" rx="2.5"/><text class="t" x="2" y="7.35">Creates valuable by-products like fertilizers</text></g>
<g id="en4-op4" transform="translate(150,418.1)"><rect class="op" width="64" height="13" rx="2.5"/><text class="t" x="2" y="7.35">Meets sustainability targets</text></g>
<g id="en4-op5" transform="translate(150,434.8)"><rect class="op" width="64" height="13" rx="2.5"/><text class="t" y="5.7"><tspan x="2">Enables business models around waste-to-energy</tspan><tspan x="2" dy="3.3">innovations</tspan></text></g>
<g id="en4-rf" transform="translate(225,385)"><rect class="rf" width="64" height="46" rx="9"/><text class="t lk" y="20.55"><tspan x="2">https://www.unep.org/resources/report/unep-food-</tspan><tspan x="2" dy="3.3">waste-index-report-2024-food-waste-trends-and-</tspan><tspan x="2" dy="3.3">global-progress-on-reducing-waste</tspan></text></g>
<g id="en4-sm" transform="translate(302,385)"><rect class="sm" width="64" height="46" rx="9"/><text class="t" y="18.9"><tspan x="2">Waste-to-energy systems are redefining food</tspan><tspan x="2" dy="3.3">waste management, turning waste into</tspan><tspan x="2" dy="3.3">renewable energy and other valuable</tspan><tspan x="2" dy="3.3">resources.</tspan></text></g>
</g>

<g id="political" transform="translate(1687,1.5)">
<text class="ttl" x="-5.3" y="41.5" textLength="99" lengthAdjust="spacingAndGlyphs">Political Macro-Trends</text>
<use href="#hdr"/><use href="#sepB"/>
<g id="po1-tr" transform="translate(0,77.5)"><rect class="tr" width="64" height="46" rx="9"/><text class="t" y="17.25"><tspan x="2" class="b">Localization vs Globalization</tspan><tspan x="2" dy="3.3">There is a trend towards localization and</tspan><tspan x="2" dy="3.3">protectionism, with countries seeking to</tspan><tspan x="2" dy="3.3">strengthen domestic industries and reduce</tspan><tspan x="2" dy="3.3">reliance on global supply chains.</tspan></text></g>
<g id="po1-th1" transform="translate(75,73)"><rect class="th" width="64" height="16" rx="2.5"/><text class="t" y="5.55"><tspan x="2">Dismantling of the global trade leads to an</tspan><tspan x="2" dy="3.3">“islands” / resource availability can become more</tspan><tspan x="2" dy="3.3">scarce</tspan></text></g>
<g id="po1-th2" transform="translate(75,92.5)"><rect class="th" width="64" height="16" rx="2.5"/><text class="t" y="7.2"><tspan x="2">Domestic infrastructure may not be able to keep</tspan><tspan x="2" dy="3.3">up with demand</tspan></text></g>
<g id="po1-th3" transform="translate(75,112)"><rect class="th" width="64" height="16" rx="2.5"/><text class="t" y="5.55"><tspan x="2">The extraction sector can create massive gaps in</tspan><tspan x="2" dy="3.3">supply and make our once extremely connected</tspan><tspan x="2" dy="3.3">global economy and market smaller</tspan></text></g>
<g id="po1-op1" transform="translate(150,73)"><rect class="op" width="64" height="16" rx="2.5"/><text class="t" x="2" y="8.85">Domestic growth in industry and manufacturing</text></g>
<g id="po1-op2" transform="translate(150,92.5)"><rect class="op" width="64" height="16" rx="2.5"/><text class="t" y="7.2"><tspan x="2">Sustainable solutions with less pollution in</tspan><tspan x="2" dy="3.3">regional climate impact initiatives</tspan></text></g>
<g id="po1-op3" transform="translate(150,112)"><rect class="op" width="64" height="16" rx="2.5"/><text class="t" y="7.2"><tspan x="2">Markets dominated by foreign companies may</tspan><tspan x="2" dy="3.3">become available with gaps in the supply</tspan></text></g>
<g id="po1-rf" transform="translate(225,77.5)"><rect class="rf" width="64" height="46" rx="9"/><text class="t lk" y="15.6"><tspan x="2">https://www.brookings.edu/articles/</tspan><tspan x="2" dy="3.3">globalization-is-not-dead-but-it-is-changing-</tspan><tspan x="2" dy="3.3">shape/?utm_source=substack&amp;utm_medium=</tspan><tspan x="2" dy="3.3">email&amp;utm_campaign=global-trade-2024&amp;</tspan><tspan x="2" dy="3.3">ref=localization-protectionism-supply-</tspan><tspan x="2" dy="3.3">chains-reshoring</tspan></text></g>
<g id="po1-sm" transform="translate(302,77.5)"><rect class="sm" width="64" height="46" rx="9"/><text class="t" y="17.25"><tspan x="2">This appears to come with need for some sort</tspan><tspan x="2" dy="3.3">of transitionary period. It may result in more</tspan><tspan x="2" dy="3.3">local, sustainable products and prices that don't</tspan><tspan x="2" dy="3.3">need to consider massive global supply chains.</tspan><tspan x="2" dy="3.3">It can also hurt many industries in a negative way.</tspan></text></g>

<g id="po2-tr" transform="translate(0,147.5)"><rect class="tr" width="64" height="46" rx="9"/><text class="t" y="18.9"><tspan x="2" class="b">Erosion of Government-run programs</tspan><tspan x="2" dy="3.3">From health care to disaster relief, to</tspan><tspan x="2" dy="3.3">pensions, to social security - distrust of</tspan><tspan x="2" dy="3.3">government-led programs is building.</tspan></text></g>
<g id="po2-th1" transform="translate(75,143)"><rect class="th" width="64" height="16" rx="2.5"/><text class="t" y="7.2"><tspan x="2">Infrastructure people have come to rely on may</tspan><tspan x="2" dy="3.3">dissolve</tspan></text></g>
<g id="po2-th2" transform="translate(75,162.5)"><rect class="th" width="64" height="16" rx="2.5"/><text class="t" x="2" y="8.85">This can amplify the spread of misinformation</text></g>
<g id="po2-th3" transform="translate(75,182)"><rect class="th" width="64" height="16" rx="2.5"/><text class="t" y="7.2"><tspan x="2">People may opt out of services that are actually</tspan><tspan x="2" dy="3.3">beneficial to them</tspan></text></g>
<g id="po2-op1" transform="translate(150,143)"><rect class="op" width="64" height="16" rx="2.5"/><text class="t" y="5.55"><tspan x="2">Opportunity for a more transparent</tspan><tspan x="2" dy="3.3">communication between government and its</tspan><tspan x="2" dy="3.3">people</tspan></text></g>
<g id="po2-op2" transform="translate(150,162.5)"><rect class="op" width="64" height="16" rx="2.5"/><text class="t" y="7.2"><tspan x="2">Some programs do need to be reimagined, and</tspan><tspan x="2" dy="3.3">this could result in better, more efficient systems</tspan></text></g>
<g id="po2-op3" transform="translate(150,182)"><rect class="op" width="64" height="16" rx="2.5"/><text class="t" y="5.55"><tspan x="2">Opportunities to provide said services or products</tspan><tspan x="2" dy="3.3">may move to the private sector, creating business</tspan><tspan x="2" dy="3.3">opportunities</tspan></text></g>
<g id="po2-rf" transform="translate(225,147.5)"><rect class="rf" width="64" height="46" rx="9"/><text class="t lk" y="20.55"><tspan x="2">https://www.pewresearch.org/politics/2024/06/24/</tspan><tspan x="2" dy="3.3">public-trust-in-government-1958-2024/?ref=</tspan><tspan x="2" dy="3.3">macro-trends</tspan></text></g>
<g id="po2-sm" transform="translate(302,147.5)"><rect class="sm" width="64" height="46" rx="9"/><text class="t" y="15.6"><tspan x="2">This could be a key step in building a better</tspan><tspan x="2" dy="3.3">future where we are able to trust each other</tspan><tspan x="2" dy="3.3">more. It also highlights a need for change,</tspan><tspan x="2" dy="3.3">whether we agree with something or not,</tspan><tspan x="2" dy="3.3">clearing the communication and education</tspan><tspan x="2" dy="3.3">we bring about ourselves.</tspan></text></g>

<g id="po3-tr" transform="translate(0,217.5)"><rect class="tr" width="64" height="46" rx="9"/><text class="t" y="22.2"><tspan x="2" class="b">Geopolitical Tensions</tspan><tspan x="2" dy="3.3">Wars, import tariffs, unrest.</tspan></text></g>
<g id="po3-th1" transform="translate(75,213)"><rect class="th" width="64" height="16" rx="2.5"/><text class="t" y="5.55"><tspan x="2">Global superpowers experiencing rising tensions</tspan><tspan x="2" dy="3.3">with each other can result in massive impacts on</tspan><tspan x="2" dy="3.3">global trade and energy shortages</tspan></text></g>
<g id="po3-th2" transform="translate(75,232.5)"><rect class="th" width="64" height="16" rx="2.5"/><text class="t" y="7.2"><tspan x="2">This sparks a shift / fear into national security as</tspan><tspan x="2" dy="3.3">priority for many</tspan></text></g>
<g id="po3-th3" transform="translate(75,252)"><rect class="th" width="64" height="16" rx="2.5"/><text class="t" y="5.55"><tspan x="2">Can lead to shifting alliances and disrupt</tspan><tspan x="2" dy="3.3">businesses as the geopolitical landscape shifts</tspan><tspan x="2" dy="3.3">quickly</tspan></text></g>
<g id="po3-op1" transform="translate(150,213)"><rect class="op" width="64" height="16" rx="2.5"/><text class="t" y="7.2"><tspan x="2">Can motivate finding a new solution to things like</tspan><tspan x="2" dy="3.3">energy and sustainability</tspan></text></g>
<g id="po3-op2" transform="translate(150,232.5)"><rect class="op" width="64" height="16" rx="2.5"/><text class="t" y="7.2"><tspan x="2">Potentially can bring some industries back into a</tspan><tspan x="2" dy="3.3">local sector creating jobs / a new marketplace</tspan></text></g>
<g id="po3-op3" transform="translate(150,252)"><rect class="op" width="64" height="16" rx="2.5"/><text class="t" y="5.55"><tspan x="2">Maybe there's a solution the private sector can</tspan><tspan x="2" dy="3.3">design that mitigates these government-reported</tspan><tspan x="2" dy="3.3">risks</tspan></text></g>
<g id="po3-rf" transform="translate(225,217.5)"><rect class="rf" width="64" height="46" rx="9"/><text class="t lk" y="22.2"><tspan x="2">https://www.spglobal.com/en/research-insights/</tspan><tspan x="2" dy="3.3">market-insights/geopolitical-risk</tspan></text></g>
<g id="po3-sm" transform="translate(302,217.5)"><rect class="sm" width="64" height="46" rx="9"/><text class="t" y="17.25"><tspan x="2">It's challenging to have a positive take on this</tspan><tspan x="2" dy="3.3">one, but perhaps the takeaway being a</tspan><tspan x="2" dy="3.3">realignment of global powers will yield some</tspan><tspan x="2" dy="3.3">new options in energy, global trade, and climate</tspan><tspan x="2" dy="3.3">change.</tspan></text></g>

<g id="po4-tr" transform="translate(0,287.5)"><rect class="tr" width="64" height="46" rx="9"/><text class="t b" x="2" y="23.85">Global Cyberattacks</text></g>
<g id="po4-th1" transform="translate(75,283)"><rect class="th" width="64" height="16" rx="2.5"/><text class="t" y="5.55"><tspan x="2">Often clouded in anonymity, cyber attacks can</tspan><tspan x="2" dy="3.3">spark a great deal of fear and distrust among</tspan><tspan x="2" dy="3.3">populations</tspan></text></g>
<g id="po4-th2" transform="translate(75,302.5)"><rect class="th" width="64" height="16" rx="2.5"/><text class="t" y="5.55"><tspan x="2">Particularly around Russia and China, this will only</tspan><tspan x="2" dy="3.3">further stoke distrust amongst nations with global</tspan><tspan x="2" dy="3.3">industries increasingly at risk</tspan></text></g>
<g id="po4-th3" transform="translate(75,322)"><rect class="th" width="64" height="16" rx="2.5"/><text class="t" y="7.2"><tspan x="2">This can massively disrupt supply chains, energy</tspan><tspan x="2" dy="3.3">distribution and other essential industries</tspan></text></g>
<g id="po4-op1" transform="translate(150,283)"><rect class="op" width="64" height="16" rx="2.5"/><text class="t" y="5.55"><tspan x="2">Leaning the security on foreign influence over</tspan><tspan x="2" dy="3.3">political and economic sectors can be a good</tspan><tspan x="2" dy="3.3">thing</tspan></text></g>
<g id="po4-op2" transform="translate(150,302.5)"><rect class="op" width="64" height="16" rx="2.5"/><text class="t" y="5.55"><tspan x="2">Potentially more sustainable solutions will be</tspan><tspan x="2" dy="3.3">produced in the energy or other commodities</tspan><tspan x="2" dy="3.3">currently tied to global trade</tspan></text></g>
<g id="po4-op3" transform="translate(150,322)"><rect class="op" width="64" height="16" rx="2.5"/><text class="t" y="7.2"><tspan x="2">Localization could boost economies and job</tspan><tspan x="2" dy="3.3">markets</tspan></text></g>
<g id="po4-rf" transform="translate(225,287.5)"><rect class="rf" width="64" height="46" rx="9"/><text class="t lk" y="20.55"><tspan x="2">https://www.weforum.org/publications/global-</tspan><tspan x="2" dy="3.3">cybersecurity-outlook-2024/digest/</tspan><tspan x="2" dy="3.3">cybersecurity</tspan></text></g>
<g id="po4-sm" transform="translate(302,287.5)"><rect class="sm" width="64" height="46" rx="9"/><text class="t" y="18.9"><tspan x="2">Although large scale cyber attacks are never</tspan><tspan x="2" dy="3.3">something great, perhaps the threat of them</tspan><tspan x="2" dy="3.3">will evolve better cybersecurity or create new</tspan><tspan x="2" dy="3.3">jobs or market sectors domestically.</tspan></text></g>
</g>

<g id="wellness" transform="translate(2092,1.5)">
<text class="ttl" x="-3.7" y="41.5" textLength="137" lengthAdjust="spacingAndGlyphs">Wellness + Food Macro-Trends</text>
<use href="#hdr"/><use href="#sepA"/>
<g id="we1-tr" transform="translate(0,85)"><rect class="tr" width="64" height="46" rx="9"/><text class="t" y="18.9"><tspan x="2" class="b">Tech-Driven Food Innovation</tspan><tspan x="2" dy="3.3">AI-powered product development is shaping</tspan><tspan x="2" dy="3.3">the future of food, with data-driven flavors and</tspan><tspan x="2" dy="3.3">formulations.</tspan></text></g>
<g id="we1-th1" transform="translate(75,68)"><rect class="th" width="64" height="13" rx="2.5"/><text class="t" y="5.7"><tspan x="2">High investment costs in AI and automation</tspan><tspan x="2" dy="3.3">technologies</tspan></text></g>
<g id="we1-th2" transform="translate(75,84.7)"><rect class="th" width="64" height="13" rx="2.5"/><text class="t" y="5.7"><tspan x="2">Consumer resistance to tech-based food</tspan><tspan x="2" dy="3.3">solutions</tspan></text></g>
<g id="we1-th3" transform="translate(75,101.4)"><rect class="th" width="64" height="13" rx="2.5"/><text class="t" y="5.7"><tspan x="2">Data security concerns with personalized food</tspan><tspan x="2" dy="3.3">technology</tspan></text></g>
<g id="we1-th4" transform="translate(75,118.1)"><rect class="th" width="64" height="13" rx="2.5"/><text class="t" y="5.7"><tspan x="2">Dependence on tech could lead to operational</tspan><tspan x="2" dy="3.3">inefficiencies</tspan></text></g>
<g id="we1-th5" transform="translate(75,134.8)"><rect class="th" width="64" height="13" rx="2.5"/><text class="t" y="5.7"><tspan x="2">Ethical concerns around AI-driven food</tspan><tspan x="2" dy="3.3">production</tspan></text></g>
<g id="we1-op1" transform="translate(150,68)"><rect class="op" width="64" height="13" rx="2.5"/><text class="t" x="2" y="7.35">AI-driven recipe creation and menu planning apps</text></g>
<g id="we1-op2" transform="translate(150,84.7)"><rect class="op" width="64" height="13" rx="2.5"/><text class="t" y="5.7"><tspan x="2">Smart kitchen appliances integrated with nutrition</tspan><tspan x="2" dy="3.3">tracking</tspan></text></g>
<g id="we1-op3" transform="translate(150,101.4)"><rect class="op" width="64" height="13" rx="2.5"/><text class="t" x="2" y="7.35">Blockchain for food traceability and transparency</text></g>
<g id="we1-op4" transform="translate(150,118.1)"><rect class="op" width="64" height="13" rx="2.5"/><text class="t" y="5.7"><tspan x="2">3D-printed food solutions for customized</tspan><tspan x="2" dy="3.3">nutrition</tspan></text></g>
<g id="we1-op5" transform="translate(150,134.8)"><rect class="op" width="64" height="13" rx="2.5"/><text class="t" y="5.7"><tspan x="2">Lab-grown meat developments for food service</tspan><tspan x="2" dy="3.3">providers</tspan></text></g>
<g id="we1-rf" transform="translate(225,85)"><rect class="rf" width="64" height="46" rx="9"/><text class="t lk" y="18.9"><tspan x="2">reference 1</tspan><tspan x="2" dy="3.3">reference 2</tspan><tspan x="2" dy="3.3">reference 3</tspan><tspan x="2" dy="3.3">reference 4</tspan></text></g>
<g id="we1-sm" transform="translate(302,85)"><rect class="sm" width="64" height="46" rx="9"/><text class="t" y="20.55"><tspan x="2">Technology is revolutionizing food, making it</tspan><tspan x="2" dy="3.3">smarter, healthier, and more accessible. Brands</tspan><tspan x="2" dy="3.3">that embrace it will lead the future.</tspan></text></g>

<g id="we2-tr" transform="translate(0,186)"><rect class="tr" width="64" height="46" rx="9"/><text class="t" y="18.9"><tspan x="2" class="b">Gut Health Awareness</tspan><tspan x="2" dy="3.3">A growing focus on digestive health, with</tspan><tspan x="2" dy="3.3">consumers looking for microbiome-friendly</tspan><tspan x="2" dy="3.3">foods and supplements.</tspan></text></g>
<g id="we2-th1" transform="translate(75,169)"><rect class="th" width="64" height="13" rx="2.5"/><text class="t" y="5.7"><tspan x="2">Overwhelming amount of conflicting information</tspan><tspan x="2" dy="3.3">for consumers</tspan></text></g>
<g id="we2-th2" transform="translate(75,185.7)"><rect class="th" width="64" height="13" rx="2.5"/><text class="t" y="5.7"><tspan x="2">Difficulty in proving scientifically-backed health</tspan><tspan x="2" dy="3.3">claims</tspan></text></g>
<g id="we2-th3" transform="translate(75,202.4)"><rect class="th" width="64" height="13" rx="2.5"/><text class="t" y="5.7"><tspan x="2">Regulatory hurdles for probiotic and prebiotic</tspan><tspan x="2" dy="3.3">products</tspan></text></g>
<g id="we2-th4" transform="translate(75,219.1)"><rect class="th" width="64" height="13" rx="2.5"/><text class="t" x="2" y="7.35">High costs of gut health supplements and foods</text></g>
<g id="we2-th5" transform="translate(75,235.8)"><rect class="th" width="64" height="13" rx="2.5"/><text class="t" y="5.7"><tspan x="2">Misinformation leading to skepticism about</tspan><tspan x="2" dy="3.3">product efficacy</tspan></text></g>
<g id="we2-op1" transform="translate(150,169)"><rect class="op" width="64" height="13" rx="2.5"/><text class="t" y="5.7"><tspan x="2">Development of probiotic-enriched snacks and</tspan><tspan x="2" dy="3.3">drinks</tspan></text></g>
<g id="we2-op2" transform="translate(150,185.7)"><rect class="op" width="64" height="13" rx="2.5"/><text class="t" y="5.7"><tspan x="2">Educational campaigns to inform consumers</tspan><tspan x="2" dy="3.3">about gut health benefits</tspan></text></g>
<g id="we2-op3" transform="translate(150,202.4)"><rect class="op" width="64" height="13" rx="2.5"/><text class="t" y="5.7"><tspan x="2">Partnerships with healthcare professionals for</tspan><tspan x="2" dy="3.3">credibility</tspan></text></g>
<g id="we2-op4" transform="translate(150,219.1)"><rect class="op" width="64" height="13" rx="2.5"/><text class="t" y="5.7"><tspan x="2">Personalized gut health supplements based on</tspan><tspan x="2" dy="3.3">microbiome analysis</tspan></text></g>
<g id="we2-op5" transform="translate(150,235.8)"><rect class="op" width="64" height="13" rx="2.5"/><text class="t" y="5.7"><tspan x="2">Retail integration with wellness sections in grocery</tspan><tspan x="2" dy="3.3">stores</tspan></text></g>
<g id="we2-rf" transform="translate(225,186)"><rect class="rf" width="64" height="46" rx="9"/><text class="t lk" y="18.9"><tspan x="2">reference 1</tspan><tspan x="2" dy="3.3">reference 2</tspan><tspan x="2" dy="3.3">reference 3</tspan><tspan x="2" dy="3.3">reference 4</tspan></text></g>
<g id="we2-sm" transform="translate(302,186)"><rect class="sm" width="64" height="46" rx="9"/><text class="t" y="20.55"><tspan x="2">People are realizing that gut health is key to</tspan><tspan x="2" dy="3.3">overall well-being. Brands that simplify and</tspan><tspan x="2" dy="3.3">educate will lead the category.</tspan></text></g>

<g id="we3-tr" transform="translate(0,286.5)"><rect class="tr" width="64" height="46" rx="9"/><text class="t" y="18.9"><tspan x="2" class="b">Alternative Proteins Boom</tspan><tspan x="2" dy="3.3">Expansion of protein sources beyond meat and</tspan><tspan x="2" dy="3.3">soy, including lab-grown meat, insect proteins,</tspan><tspan x="2" dy="3.3">and algae.</tspan></text></g>
<g id="we3-th1" transform="translate(75,269.5)"><rect class="th" width="64" height="13" rx="2.5"/><text class="t" y="5.7"><tspan x="2">Consumer hesitation around lab-grown and insect</tspan><tspan x="2" dy="3.3">proteins</tspan></text></g>
<g id="we3-th2" transform="translate(75,286.2)"><rect class="th" width="64" height="13" rx="2.5"/><text class="t" x="2" y="7.35">Regulatory barriers slowing market entry</text></g>
<g id="we3-th3" transform="translate(75,302.9)"><rect class="th" width="64" height="13" rx="2.5"/><text class="t" y="5.7"><tspan x="2">Supply chain complexities for novel protein</tspan><tspan x="2" dy="3.3">sources</tspan></text></g>
<g id="we3-th4" transform="translate(75,319.6)"><rect class="th" width="64" height="13" rx="2.5"/><text class="t" x="2" y="7.35">Scaling production to meet mass-market demand</text></g>
<g id="we3-th5" transform="translate(75,336.3)"><rect class="th" width="64" height="13" rx="2.5"/><text class="t" y="5.7"><tspan x="2">Perceived lack of taste compared to traditional</tspan><tspan x="2" dy="3.3">proteins</tspan></text></g>
<g id="we3-op1" transform="translate(150,269.5)"><rect class="op" width="64" height="13" rx="2.5"/><text class="t" x="2" y="7.35">Expansion into cultured meat and seafood</text></g>
<g id="we3-op2" transform="translate(150,286.2)"><rect class="op" width="64" height="13" rx="2.5"/><text class="t" y="5.7"><tspan x="2">Marketing alternative proteins as sustainable</tspan><tspan x="2" dy="3.3">options</tspan></text></g>
<g id="we3-op3" transform="translate(150,302.9)"><rect class="op" width="64" height="13" rx="2.5"/><text class="t" x="2" y="7.35">Partnerships with chefs and food influencers</text></g>
<g id="we3-op4" transform="translate(150,319.6)"><rect class="op" width="64" height="13" rx="2.5"/><text class="t" x="2" y="7.35">Investment in R&amp;D to improve taste and texture</text></g>
<g id="we3-op5" transform="translate(150,336.3)"><rect class="op" width="64" height="13" rx="2.5"/><text class="t" x="2" y="7.35">Educating consumers on nutritional benefits</text></g>
<g id="we3-rf" transform="translate(225,286.5)"><rect class="rf" width="64" height="46" rx="9"/><text class="t lk" y="20.55"><tspan x="2">reference 1</tspan><tspan x="2" dy="3.3">reference 2</tspan><tspan x="2" dy="3.3">reference 3</tspan></text></g>
<g id="we3-sm" transform="translate(302,286.5)"><rect class="sm" width="64" height="46" rx="9"/><text class="t" y="20.55"><tspan x="2">With sustainability concerns rising, alternative</tspan><tspan x="2" dy="3.3">proteins are becoming more mainstream.</tspan><tspan x="2" dy="3.3">Brands that educate and innovate will succeed.</tspan></text></g>

<g id="we4-tr" transform="translate(0,385)"><rect class="tr" width="64" height="46" rx="9"/><text class="t" y="17.25"><tspan x="2" class="b">Mental Wellness Foods &amp; Beverages</tspan><tspan x="2" dy="3.3">Consumers are turning to foods and beverages</tspan><tspan x="2" dy="3.3">that are infused with adaptogens, nootropics,</tspan><tspan x="2" dy="3.3">and probiotics and support cognitive function,</tspan><tspan x="2" dy="3.3">relaxation, and stress relief.</tspan></text></g>
<g id="we4-th1" transform="translate(75,368)"><rect class="th" width="64" height="13" rx="2.5"/><text class="t" y="4.05"><tspan x="2">Consumers may question the effectiveness of</tspan><tspan x="2" dy="3.3">adaptogens and nootropics, making them hesitant</tspan><tspan x="2" dy="3.3">to try new products</tspan></text></g>
<g id="we4-th2" transform="translate(75,384.7)"><rect class="th" width="64" height="13" rx="2.5"/><text class="t" y="5.7"><tspan x="2">Strict regulations on health claims can limit</tspan><tspan x="2" dy="3.3">marketing efforts and product positioning</tspan></text></g>
<g id="we4-th3" transform="translate(75,401.4)"><rect class="th" width="64" height="13" rx="2.5"/><text class="t" y="5.7"><tspan x="2">Higher costs associated with functional</tspan><tspan x="2" dy="3.3">ingredients may deter price-sensitive consumers</tspan></text></g>
<g id="we4-th4" transform="translate(75,418.1)"><rect class="th" width="64" height="13" rx="2.5"/><text class="t" y="5.7"><tspan x="2">Complex ingredient lists and scientific terms may</tspan><tspan x="2" dy="3.3">confuse consumers and hinder adoption</tspan></text></g>
<g id="we4-th5" transform="translate(75,434.8)"><rect class="th" width="64" height="13" rx="2.5"/><text class="t" y="5.7"><tspan x="2">With more brands entering the space, standing</tspan><tspan x="2" dy="3.3">out and maintaining trust can be challenging</tspan></text></g>
<g id="we4-op1" transform="translate(150,368)"><rect class="op" width="64" height="13" rx="2.5"/><text class="t" y="5.7"><tspan x="2">Partnering with experts to validate benefits can</tspan><tspan x="2" dy="3.3">build consumer trust and credibility</tspan></text></g>
<g id="we4-op2" transform="translate(150,384.7)"><rect class="op" width="64" height="13" rx="2.5"/><text class="t" y="5.7"><tspan x="2">Convenient RTD wellness drinks and snack bars</tspan><tspan x="2" dy="3.3">cater to busy lifestyles</tspan></text></g>
<g id="we4-op3" transform="translate(150,401.4)"><rect class="op" width="64" height="13" rx="2.5"/><text class="t" y="5.7"><tspan x="2">Offering tailored products based on individual</tspan><tspan x="2" dy="3.3">wellness needs can enhance customer loyalty</tspan></text></g>
<g id="we4-op4" transform="translate(150,418.1)"><rect class="op" width="64" height="13" rx="2.5"/><text class="t" y="4.05"><tspan x="2">Positioning products as part of a complete self-</tspan><tspan x="2" dy="3.3">care routine can appeal to wellness-focused</tspan><tspan x="2" dy="3.3">consumers</tspan></text></g>
<g id="we4-op5" transform="translate(150,434.8)"><rect class="op" width="64" height="13" rx="2.5"/><text class="t" y="5.7"><tspan x="2">Sustainable packaging and sourcing can attract</tspan><tspan x="2" dy="3.3">environmentally conscious buyers</tspan></text></g>
<g id="we4-rf" transform="translate(225,385)"><rect class="rf" width="64" height="46" rx="9"/><text class="t lk" y="18.9"><tspan x="2">reference 1</tspan><tspan x="2" dy="3.3">reference 2</tspan><tspan x="2" dy="3.3">reference 3</tspan><tspan x="2" dy="3.3">reference 4</tspan></text></g>
<g id="we4-sm" transform="translate(302,385)"><rect class="sm" width="64" height="46" rx="9"/><text class="t" y="15.6"><tspan x="2">Consumers are increasingly seeking foods and</tspan><tspan x="2" dy="3.3">beverages that promote mental well-being,</tspan><tspan x="2" dy="3.3">offering stress relief, focus, and relaxation.</tspan><tspan x="2" dy="3.3">Brands that combine scientific credibility,</tspan><tspan x="2" dy="3.3">convenience, and sustainability will have the</tspan><tspan x="2" dy="3.3">best chance to succeed in this growing market.</tspan></text></g>
</g>

<g id="connectors" class="ar">
<g transform="translate(34,0)">
<path d="M64 108H75"/><path d="M139 108H150"/><path d="M214 108H225"/><path d="M289 108H302"/>
<path d="M64 209H75"/><path d="M139 209H150"/><path d="M214 209H225"/><path d="M289 209H302"/>
<path d="M64 309.5H75"/><path d="M139 309.5H150"/><path d="M214 309.5H225"/><path d="M289 309.5H302"/>
<path d="M64 408H75"/><path d="M139 408H150"/><path d="M214 408H225"/><path d="M289 408H302"/>
</g>
<g transform="translate(457,0)">
<path d="M64 108H75"/><path d="M139 108H150"/><path d="M214 108H225"/><path d="M289 108H302"/>
<path d="M64 209H75"/><path d="M139 209H150"/><path d="M214 209H225"/><path d="M289 209H302"/>
<path d="M64 309.5H75"/><path d="M139 309.5H150"/><path d="M214 309.5H225"/><path d="M289 309.5H302"/>
<path d="M64 408H75"/><path d="M139 408H150"/><path d="M214 408H225"/><path d="M289 408H302"/>
</g>
<g transform="translate(874,0)">
<path d="M64 100.5H75"/><path d="M139 100.5H150"/><path d="M214 100.5H225"/><path d="M289 100.5H302"/>
<path d="M64 170.5H75"/><path d="M139 170.5H150"/><path d="M214 170.5H225"/><path d="M289 170.5H302"/>
<path d="M64 240.5H75"/><path d="M139 240.5H150"/><path d="M214 240.5H225"/><path d="M289 240.5H302"/>
<path d="M64 310.5H75"/><path d="M139 310.5H150"/><path d="M214 310.5H225"/><path d="M289 310.5H302"/>
</g>
<g transform="translate(1275,0)">
<path d="M64 108H75"/><path d="M139 108H150"/><path d="M214 108H225"/><path d="M289 108H302"/>
<path d="M64 209H75"/><path d="M139 209H150"/><path d="M214 209H225"/><path d="M289 209H302"/>
<path d="M64 309.5H75"/><path d="M139 309.5H150"/><path d="M214 309.5H225"/><path d="M289 309.5H302"/>
<path d="M64 408H75"/><path d="M139 408H150"/><path d="M214 408H225"/><path d="M289 408H302"/>
</g>
<g transform="translate(1687,1.5)">
<path d="M64 100.5H75"/><path d="M139 100.5H150"/><path d="M214 100.5H225"/><path d="M289 100.5H302"/>
<path d="M64 170.5H75"/><path d="M139 170.5H150"/><path d="M214 170.5H225"/><path d="M289 170.5H302"/>
<path d="M64 240.5H75"/><path d="M139 240.5H150"/><path d="M214 240.5H225"/><path d="M289 240.5H302"/>
<path d="M64 310.5H75"/><path d="M139 310.5H150"/><path d="M214 310.5H225"/><path d="M289 310.5H302"/>
</g>
<g transform="translate(2092,1.5)">
<path d="M64 108H75"/><path d="M139 108H150"/><path d="M214 108H225"/><path d="M289 108H302"/>
<path d="M64 209H75"/><path d="M139 209H150"/><path d="M214 209H225"/><path d="M289 209H302"/>
<path d="M64 309.5H75"/><path d="M139 309.5H150"/><path d="M214 309.5H225"/><path d="M289 309.5H302"/>
<path d="M64 408H75"/><path d="M139 408H150"/><path d="M214 408H225"/><path d="M289 408H302"/>
</g>
</g>
</svg>
